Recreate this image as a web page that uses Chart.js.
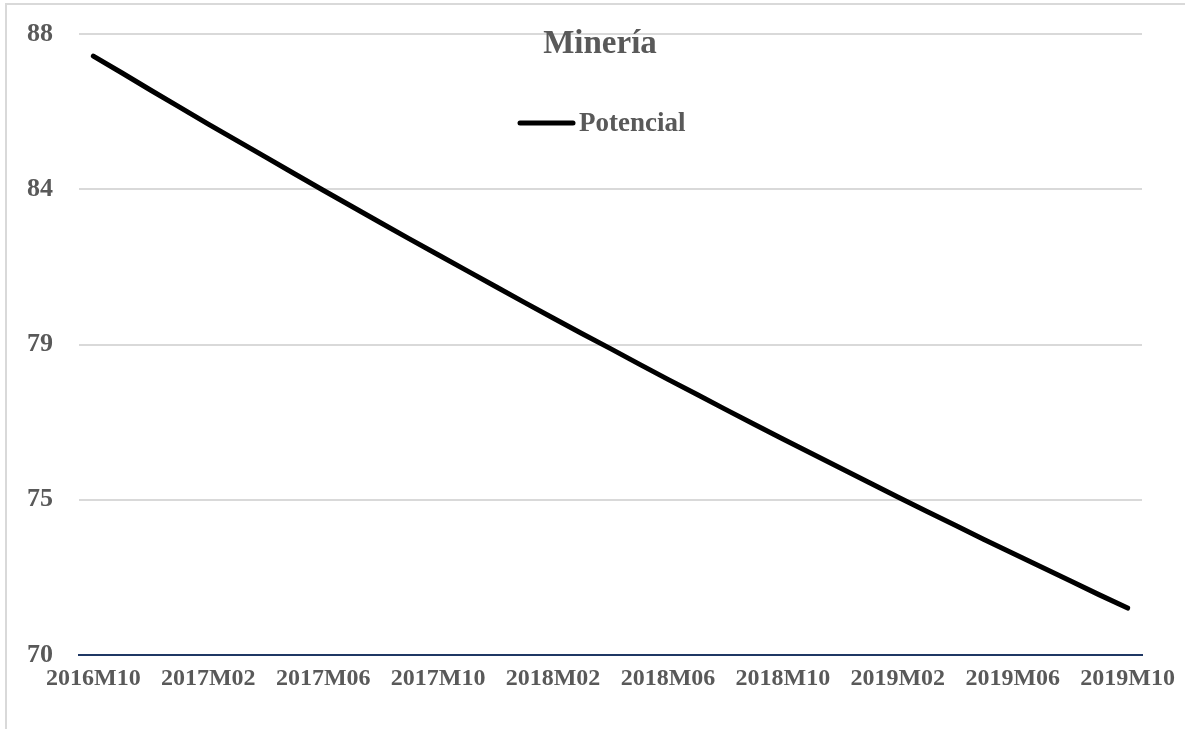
<!DOCTYPE html>
<html>
<head>
<meta charset="utf-8">
<script src="https://cdn.jsdelivr.net/npm/chart.js@4.4.1/dist/chart.umd.min.js"></script>
<style>
  html, body { margin: 0; padding: 0; background: #ffffff; overflow: hidden; }
  #frame { position: absolute; left: 5px; top: 3px; width: 1300px; height: 800px; border: 2px solid #d9d9d9; box-sizing: border-box; }
  #wrap { position: absolute; left: 0; top: 0; width: 1185px; height: 729px; }
</style>
</head>
<body>
<div id="frame"></div>
<div id="wrap"><canvas id="c" width="1185" height="729"></canvas></div>
<script>
const chartTitle = "Minería";
const seriesName = "Potencial";

const categories = [
  "2016M10","2016M11","2016M12",
  "2017M01","2017M02","2017M03","2017M04","2017M05","2017M06","2017M07","2017M08","2017M09","2017M10","2017M11","2017M12",
  "2018M01","2018M02","2018M03","2018M04","2018M05","2018M06","2018M07","2018M08","2018M09","2018M10","2018M11","2018M12",
  "2019M01","2019M02","2019M03","2019M04","2019M05","2019M06","2019M07","2019M08","2019M09","2019M10"
];

const potencial = [
  87.36, 86.87, 86.37, 85.88, 85.39, 84.91, 84.43, 83.95, 83.47, 83.00,
  82.53, 82.06, 81.60, 81.14, 80.68, 80.22, 79.77, 79.32, 78.88, 78.43,
  77.99, 77.56, 77.12, 76.69, 76.26, 75.84, 75.42, 75.00, 74.58, 74.17,
  73.76, 73.35, 72.95, 72.55, 72.15, 71.75, 71.36
];

const xTickLabels = ["2016M10","2017M02","2017M06","2017M10","2018M02","2018M06","2018M10","2019M02","2019M06","2019M10"];
const yMin = 70, yMax = 88, yStep = 4.5;

const FONT = "'Liberation Serif', 'Times New Roman', serif";
const TEXT = "#595959";

const overlay = {
  id: "overlay",
  afterDraw(chart) {
    const ctx = chart.ctx;
    ctx.save();
    ctx.fillStyle = TEXT;
    ctx.font = "bold 33px " + FONT;
    ctx.textAlign = "center";
    ctx.textBaseline = "alphabetic";
    ctx.fillText(chartTitle, 600, 53);
    ctx.strokeStyle = "#000000";
    ctx.lineWidth = 5;
    ctx.lineCap = "round";
    ctx.beginPath();
    ctx.moveTo(520, 123);
    ctx.lineTo(573, 123);
    ctx.stroke();
    ctx.font = "bold 27px " + FONT;
    ctx.textAlign = "left";
    ctx.fillText(seriesName, 579, 131);
    ctx.restore();
  }
};

new Chart(document.getElementById("c"), {
  type: "line",
  data: {
    labels: categories,
    datasets: [{
      label: seriesName,
      data: potencial,
      borderColor: "#000000",
      borderWidth: 5,
      borderCapStyle: "round",
      borderJoinStyle: "round",
      pointRadius: 0,
      tension: 0,
      fill: false
    }]
  },
  options: {
    responsive: false,
    animation: false,
    devicePixelRatio: 1,
    layout: { padding: { left: 0, right: 43, top: 34, bottom: 0 } },
    plugins: { legend: { display: false }, title: { display: false }, tooltip: { enabled: false } },
    scales: {
      x: {
        offset: true,
        grid: { display: false, drawTicks: false },
        border: { display: true, color: "#1f3864", width: 2 },
        ticks: {
          autoSkip: false, maxRotation: 0, minRotation: 0, padding: 9,
          color: TEXT, font: { family: FONT, size: 24, weight: "bold" },
          callback: function(v, i) { const l = categories[i]; return xTickLabels.includes(l) ? l : ""; }
        },
        afterFit(scale) { scale.height = 74; }
      },
      y: {
        min: yMin, max: yMax,
        grid: { color: "#d9d9d9", lineWidth: 2, drawTicks: false },
        border: { display: false },
        ticks: {
          stepSize: yStep, padding: 26,
          color: TEXT, font: { family: FONT, size: 26, weight: "bold" },
          callback: function(v) { return Math.round(v).toString(); }
        },
        afterFit(scale) { scale.width = 79; scale.paddingTop = 0; scale.paddingBottom = 0; }
      }
    }
  },
  plugins: [overlay]
});
</script>
</body>
</html>
